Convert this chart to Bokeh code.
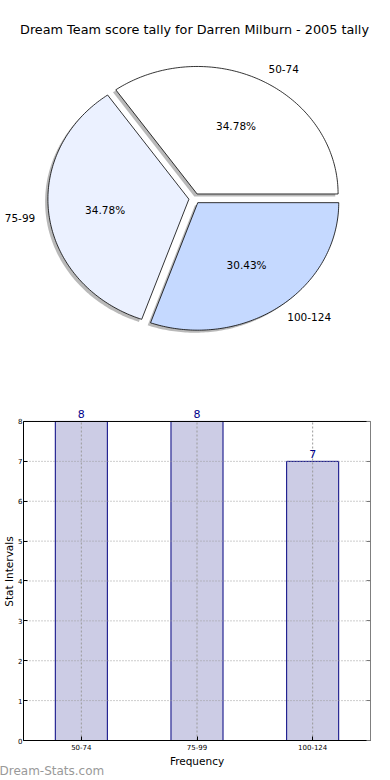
import numpy as np
from bokeh.plotting import figure
from bokeh.layouts import column
from bokeh.models import (Range1d, Label, LabelSet, ColumnDataSource, FixedTicker,
                          LinearAxis, Title)
from bokeh.core.properties import value
from bokeh.embed import file_html
from bokeh.resources import INLINE

# ---------------- data ----------------
title_text = "Dream Team score tally for Darren Milburn - 2005 tally"
categories = ["50-74", "75-99", "100-124"]
counts = [8, 8, 7]
pie_colors = ["#FFFFFF", "#EBF1FF", "#C5D9FF"]
explode = [0.04, 0.04, 0.04]
y_ticks = [0, 1, 2, 3, 4, 5, 6, 7, 8]
x_axis_label = "Frequency"
y_axis_label = "Stat Intervals"
watermark_text = "Dream-Stats.com"

FONT = "DejaVu Sans"
W = 388
H1 = 380
H2 = 398


def no_frame_align(p):
    try:
        p.frame_align = False
    except Exception:
        pass


# ---------------- pie ----------------
total = float(sum(counts))
fracs = np.array(counts, dtype=float) / total
edges = np.concatenate([[0.0], np.cumsum(fracs)]) * 2 * np.pi

wx, wy, sx, sy = [], [], [], []
lab_x, lab_y, lab_align = [], [], []
pct_x, pct_y, pct_text = [], [], []
shadow_dx, shadow_dy = -0.02, -0.02
for i in range(len(counts)):
    t1, t2 = edges[i], edges[i + 1]
    m = 0.5 * (t1 + t2)
    ox, oy = explode[i] * np.cos(m), explode[i] * np.sin(m)
    arc = np.linspace(t1, t2, 120)
    xs = [ox] + list(ox + np.cos(arc))
    ys = [oy] + list(oy + np.sin(arc))
    wx.append(xs)
    wy.append(ys)
    sx.append([v + shadow_dx for v in xs])
    sy.append([v + shadow_dy for v in ys])
    lab_x.append(ox + 1.1 * np.cos(m))
    lab_y.append(oy + 1.1 * np.sin(m))
    lab_align.append("left" if np.cos(m) > 0 else "right")
    pct_x.append(ox + 0.6 * np.cos(m))
    pct_y.append(oy + 0.6 * np.sin(m))
    pct_text.append("%.2f%%" % (fracs[i] * 100))

# reference pie scale: 141 px / unit horizontally, 127.5 px / unit vertically
x0 = -194.0 / 141.0
y1 = 198.0 / 127.5
p1 = figure(width=W, height=H1, x_range=Range1d(x0, x0 + W / 141.0),
            y_range=Range1d(y1 - H1 / 127.5, y1), output_backend="svg",
            toolbar_location=None, x_axis_location=None, y_axis_location=None,
            min_border=0, match_aspect=False)
no_frame_align(p1)
p1.grid.visible = False
p1.outline_line_color = None

p1.patches(xs=sx, ys=sy, fill_color="#808080", fill_alpha=0.55, line_color=None)
p1.patches(xs=wx, ys=wy, fill_color=pie_colors, line_color="black", line_width=0.8)

lab_src = ColumnDataSource(dict(x=lab_x, y=lab_y, text=categories, align=lab_align))
p1.text(x="x", y="y", text="text", text_align="align", text_baseline="middle",
        text_font=value(FONT), text_font_size="10.5px", text_color="black", source=lab_src)
pct_src = ColumnDataSource(dict(x=pct_x, y=pct_y, text=pct_text))
p1.text(x="x", y="y", text="text", text_align="center", text_baseline="middle",
        text_font=value(FONT), text_font_size="10.5px", text_color="black", source=pct_src)

p1.add_layout(Label(x=194, y=H1 - 29, x_units="screen", y_units="screen", text=title_text,
                    text_align="center", text_baseline="middle", text_font=FONT,
                    text_font_size="12.8px", text_color="black"))

# ---------------- bars ----------------
positions = list(range(len(categories)))
x_lo, x_hi = positions[0] - 0.5, positions[-1] + 0.5
y_lo, y_hi = y_ticks[0], y_ticks[-1]
n = len(positions)

p2 = figure(width=W, height=H2, x_range=Range1d(x_lo, x_hi), y_range=Range1d(y_lo, y_hi + 0.476),
            output_backend="svg", toolbar_location=None,
            min_border_top=22, min_border_right=18, min_border_bottom=38, min_border_left=0)
no_frame_align(p2)
p2.outline_line_color = None
p2.grid.visible = False

p2.vbar(x=positions, top=counts, width=0.45, fill_color="#CCCCE5", line_color="#000080",
        line_width=1)

# dotted grid over the bars, inside the axes box
p2.segment(x0=[x_lo] * len(y_ticks), y0=y_ticks, x1=[x_hi] * len(y_ticks), y1=y_ticks,
           line_color="#9a9a9a", line_dash="1 2", line_width=1)
p2.segment(x0=positions, y0=[y_lo] * n, x1=positions, y1=[y_hi] * n,
           line_color="#9a9a9a", line_dash="2 2", line_width=1)
# axes box
p2.quad(left=[x_lo], right=[x_hi], bottom=[y_lo], top=[y_hi], fill_color=None,
        line_color="black", line_width=1)

vals_src = ColumnDataSource(dict(x=positions, y=counts, text=[str(c) for c in counts]))
p2.add_layout(LabelSet(x="x", y="y", text="text", source=vals_src, y_offset=3,
                       text_align="center", text_baseline="bottom", text_font=value(FONT),
                       text_font_size="11px", text_color="#00008B"))

xa = p2.xaxis[0]
xa.axis_label = x_axis_label
xa.ticker = FixedTicker(ticks=positions)
xa.major_label_overrides = {pos: cat for pos, cat in zip(positions, categories)}
ya = p2.yaxis[0]
ya.axis_label = y_axis_label
ya.ticker = FixedTicker(ticks=y_ticks)
ya.bounds = (y_lo, y_hi)
for ax in (xa, ya):
    ax.major_label_text_font = FONT
    ax.major_label_text_font_size = "7px"
    ax.major_label_text_color = "black"
    ax.major_tick_in = 4
    ax.major_tick_out = 0
    ax.minor_tick_line_color = None
    ax.major_label_standoff = 3
    ax.axis_label_standoff = 2
    ax.axis_label_text_font = FONT
    ax.axis_label_text_font_size = "10.5px"
    ax.axis_label_text_font_style = "normal"
    ax.axis_label_text_color = "black"
    ax.axis_line_color = "black"
    ax.major_tick_line_color = "black"
ya.major_label_standoff = 1
ya.axis_label_standoff = 0

ra = LinearAxis(ticker=FixedTicker(ticks=y_ticks), bounds=(y_lo, y_hi),
                major_label_overrides={t: "" for t in y_ticks},
                major_tick_in=4, major_tick_out=0, minor_tick_line_color=None,
                major_label_standoff=0, axis_line_color=None,
                major_tick_line_color="#777777")
p2.add_layout(ra, "right")

p2.add_layout(Title(text=watermark_text, align="left", text_font=FONT, text_font_size="12px",
                    text_font_style="normal", text_color="#999999", offset=-24, standoff=-15),
              "below")

layout = column(p1, p2, spacing=0)
no_frame_align(layout)
open("out.html", "w").write(file_html(layout, INLINE))
